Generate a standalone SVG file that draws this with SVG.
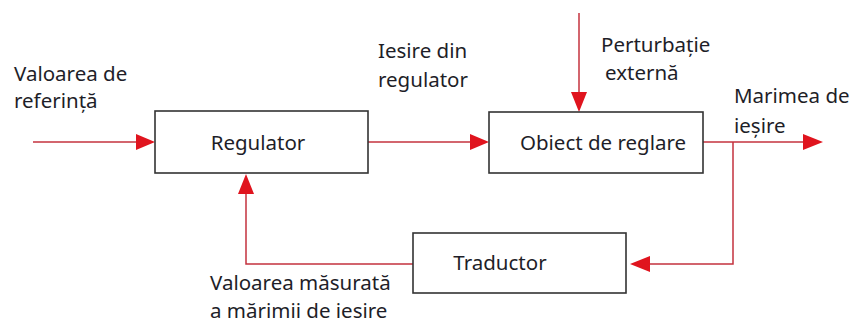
<svg xmlns="http://www.w3.org/2000/svg" width="854" height="324" viewBox="0 0 854 324">
<style>
.box{fill:#fff;stroke:#333;stroke-width:1.6}
.ln{fill:none;stroke:#c4323e;stroke-width:1.5}
.ah{fill:#e0141e}
text{font-family:"Noto Sans","Open Sans",sans-serif;font-size:20.5px;fill:#1e1e28}
</style>
<rect width="854" height="324" fill="#fff"/>
<g id="connectors">
<path class="ln" d="M33 142H140"/><polygon class="ah" points="155,142 136,134 136,150"/>
<path class="ln" d="M368 142H474"/><polygon class="ah" points="489,142 470,134 470,150"/>
<path class="ln" d="M579 13V97"/><polygon class="ah" points="579,112 571,92 587,92"/>
<path class="ln" d="M703 142H808"/><polygon class="ah" points="823,142 803,134 803,150"/>
<path class="ln" d="M733 142V264H645"/><polygon class="ah" points="630,264 650,256 650,272"/>
<path class="ln" d="M413 264H246V190"/><polygon class="ah" points="246,174 238,194 254,194"/>
</g>
<g id="regulator"><rect class="box" x="155" y="111" width="213" height="62"/><text x="258" y="150" text-anchor="middle">Regulator</text></g>
<g id="obiect"><rect class="box" x="489" y="112" width="214" height="61"/><text x="603" y="150" text-anchor="middle">Obiect de reglare</text></g>
<g id="traductor"><rect class="box" x="413" y="233" width="213" height="60"/><text x="500" y="270" text-anchor="middle">Traductor</text></g>
<g id="labels">
<text x="14" y="81">Valoarea de</text>
<text x="14" y="108">referință</text>
<text x="378" y="58">Iesire din</text>
<text x="378" y="87">regulator</text>
<text x="601" y="52">Perturbație</text>
<text x="605" y="80">externă</text>
<text x="734" y="103">Marimea de</text>
<text x="734" y="133">ieșire</text>
<text x="210" y="290">Valoarea măsurată</text>
<text x="210" y="318">a mărimii de iesire</text>
</g>
</svg>
